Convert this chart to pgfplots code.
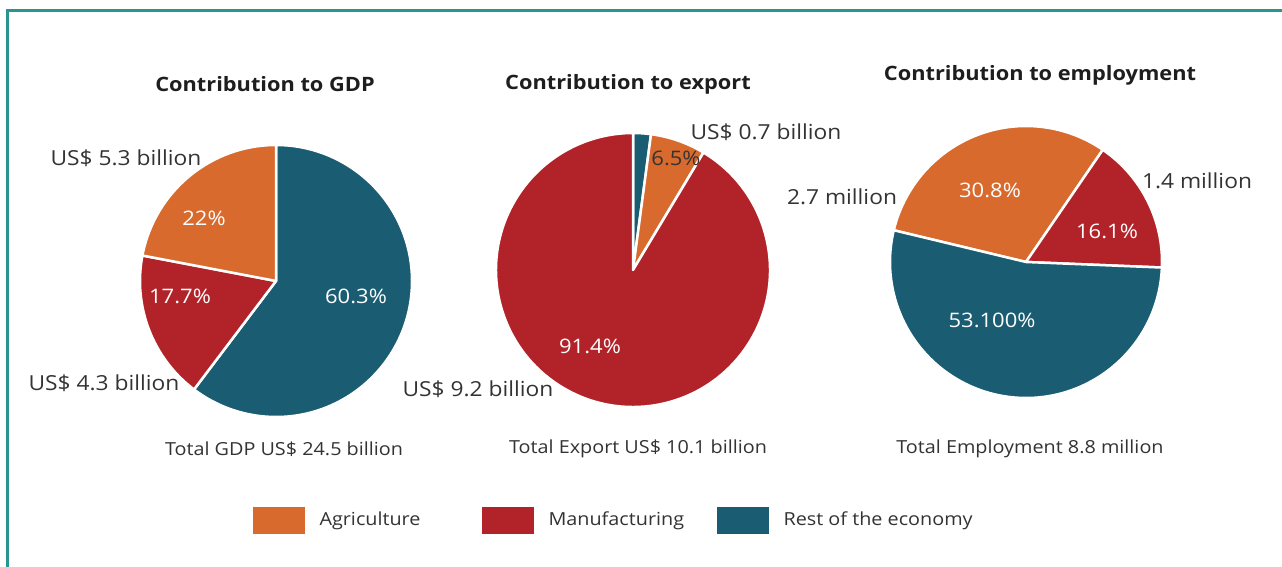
\documentclass[border=0pt]{standalone}
\usepackage{pgfplots}
\pgfplotsset{compat=1.18}
\usepackage{pgfplotstable}
\usepackage{fontspec}
\setmainfont{Open Sans}[FakeStretch=1.1]
\definecolor{agri}{HTML}{D86A2E}
\definecolor{manu}{HTML}{B22329}
\definecolor{rest}{HTML}{1A5C71}
\definecolor{frm}{HTML}{2A9490}
\definecolor{txt}{HTML}{333333}
\definecolor{ttl}{HTML}{1E1E1E}

% shares in percent, in clockwise drawing order
\pgfplotstableread{
pct
60.3
17.7
22.0
}\gdptab
\pgfplotstableread{
pct
2.1
6.5
91.4
}\exptab
\pgfplotstableread{
pct
30.8
16.1
53.1
}\emptab

\newcommand\getangles[5]{% table, start, macro1, macro2, macro3 (end angles, clockwise)
  \pgfplotstablegetelem{0}{pct}\of#1\pgfmathsetmacro#3{#2-3.6*\pgfplotsretval}%
  \pgfplotstablegetelem{1}{pct}\of#1\pgfmathsetmacro#4{#3-3.6*\pgfplotsretval}%
  \pgfplotstablegetelem{2}{pct}\of#1\pgfmathsetmacro#5{#4-3.6*\pgfplotsretval}%
}

\begin{document}
\begin{tikzpicture}[x=1pt,y=1pt]
\path[use as bounding box] (0,0) rectangle (1282,567);
\fill[white] (0,0) rectangle (1282,567);
\draw[frm, line width=3pt] (7,0) -- (7,556) -- (1282,556);

\getangles{\gdptab}{90}{\gA}{\gB}{\gC}
\getangles{\exptab}{90}{\eA}{\eB}{\eC}
\getangles{\emptab}{166.5}{\mA}{\mB}{\mC}

\pgfplotsset{pieax/.style={hide axis, scale only axis, clip=false, width=200pt, height=200pt,
  xmin=-1, xmax=1, ymin=-1, ymax=1, anchor=center}}
\tikzset{sl/.style={draw=white, line width=2.5pt, line join=round}}

% GDP
\begin{axis}[pieax, at={(276,286)}]
\fill[rest, sl] (axis cs:0,0) -- ++(90:136pt) arc[start angle=90, end angle=\gA, radius=136pt] -- cycle;
\fill[manu, sl] (axis cs:0,0) -- ++(\gA:136pt) arc[start angle=\gA, end angle=\gB, radius=136pt] -- cycle;
\fill[agri, sl] (axis cs:0,0) -- ++(\gB:136pt) arc[start angle=\gB, end angle=\gC, radius=136pt] -- cycle;
\end{axis}
% Export
\begin{axis}[pieax, at={(633,297)}]
\fill[rest, sl] (axis cs:0,0) -- ++(90:137pt) arc[start angle=90, end angle=\eA, radius=137pt] -- cycle;
\fill[agri, sl] (axis cs:0,0) -- ++(\eA:137pt) arc[start angle=\eA, end angle=\eB, radius=137pt] -- cycle;
\fill[manu, sl] (axis cs:0,0) -- ++(\eB:137pt) arc[start angle=\eB, end angle=\eC, radius=137pt] -- cycle;
\end{axis}
% Employment
\begin{axis}[pieax, at={(1026,305)}]
\fill[agri, sl] (axis cs:0,0) -- ++(166.5:136pt) arc[start angle=166.5, end angle=\mA, radius=136pt] -- cycle;
\fill[manu, sl] (axis cs:0,0) -- ++(\mA:136pt) arc[start angle=\mA, end angle=\mB, radius=136pt] -- cycle;
\fill[rest, sl] (axis cs:0,0) -- ++(\mB:136pt) arc[start angle=\mB, end angle=\mC, radius=136pt] -- cycle;
\end{axis}

% titles
\begin{scope}[every node/.style={font=\fontsize{19.8}{24}\selectfont\bfseries, text=ttl}]
\node at (265,483) {Contribution to GDP};
\node at (628,483) {Contribution to export};
\node at (1040,492) {Contribution to employment};
\end{scope}
% outer labels
\begin{scope}[every node/.style={font=\fontsize{20.7}{24}\selectfont, text=txt}]
\node at (126,409) {US\$ 5.3 billion};
\node at (104,184) {US\$ 4.3 billion};
\node at (766,435) {US\$ 0.7 billion};
\node at (478,178) {US\$ 9.2 billion};
\node at (842,370) {2.7 million};
\node at (1197,386) {1.4 million};
\end{scope}
% percentages
\begin{scope}[every node/.style={font=\fontsize{20}{23}\selectfont, text=white}]
\node at (204,349) {22\%};
\node at (180,271) {17.7\%};
\node at (356,271) {60.3\%};
\node[text=txt] at (676,409) {6.5\%};
\node at (590,221) {91.4\%};
\node at (990,377) {30.8\%};
\node at (1107,336) {16.1\%};
\node at (992,247) {53.100\%};
\end{scope}
% captions
\begin{scope}[every node/.style={font=\fontsize{18}{22}\selectfont, text=txt}]
\node at (284,118) {Total GDP US\$ 24.5 billion};
\node at (638,118) {Total Export US\$ 10.1 billion};
\node at (1030,118) {Total Employment 8.8 million};
\end{scope}
% legend
\fill[agri] (253,33) rectangle (305,60);
\fill[manu] (482,33) rectangle (534,60);
\fill[rest] (717,33) rectangle (769,60);
\begin{scope}[every node/.style={font=\fontsize{18}{22}\selectfont, text=txt, anchor=west}]
\node at (316,46) {Agriculture};
\node at (545,46) {Manufacturing};
\node at (780,46) {Rest of the economy};
\end{scope}
\end{tikzpicture}
\end{document}
